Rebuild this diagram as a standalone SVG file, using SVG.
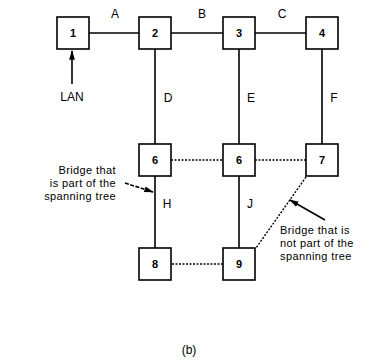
<svg xmlns="http://www.w3.org/2000/svg" width="381" height="360" viewBox="0 0 381 360">
<defs>
<style>
.box{fill:#fff;stroke:#000;stroke-width:1.6}
.ln{stroke:#000;stroke-width:1.6;fill:none}
.dot{stroke:#000;stroke-width:1.4;stroke-dasharray:2 1.5;fill:none}
.num{font-family:"Liberation Sans",Arial,sans-serif;font-size:11px;font-weight:bold;text-anchor:middle}
.lbl{font-family:"Liberation Sans",Arial,sans-serif;font-size:12px;text-anchor:middle}
.note{font-family:"Liberation Sans",Arial,sans-serif;font-size:11px;letter-spacing:0.4px}
</style>
<marker id="ah" viewBox="0 0 10 10" refX="9" refY="5" markerWidth="6" markerHeight="6" orient="auto">
<path d="M0,2 L10,5 L0,8 z" fill="#000"/>
</marker>
</defs>
<rect width="381" height="360" fill="#fff"/>
<g id="connectors">
<line class="ln" x1="89" y1="33" x2="139" y2="33"/>
<line class="ln" x1="171" y1="33" x2="223" y2="33"/>
<line class="ln" x1="255" y1="33" x2="306" y2="33"/>
<line class="ln" x1="155" y1="49" x2="155" y2="144"/>
<line class="ln" x1="239" y1="49" x2="239" y2="144"/>
<line class="ln" x1="322" y1="49" x2="322" y2="144"/>
<line class="ln" x1="155" y1="176" x2="155" y2="248"/>
<line class="ln" x1="239" y1="176" x2="239" y2="248"/>
<line class="dot" x1="171" y1="160" x2="223" y2="160"/>
<line class="dot" x1="255" y1="160" x2="306" y2="160"/>
<line class="dot" x1="172" y1="264" x2="224" y2="264"/>
<line class="dot" x1="306" y1="177" x2="256" y2="248"/>
<line class="ln" x1="72" y1="84" x2="72" y2="51" marker-end="url(#ah)"/>
<line class="ln" x1="125" y1="183" x2="153" y2="192" stroke-dasharray="4 1.5" marker-end="url(#ah)"/>
<line class="ln" x1="325" y1="220" x2="290" y2="200" marker-end="url(#ah)"/>
<text class="lbl" x="115" y="18">A</text>
<text class="lbl" x="202" y="18">B</text>
<text class="lbl" x="282" y="18">C</text>
<text class="lbl" x="168" y="102">D</text>
<text class="lbl" x="251" y="102">E</text>
<text class="lbl" x="334" y="102">F</text>
<text class="lbl" x="167" y="208">H</text>
<text class="lbl" x="250" y="208">J</text>
</g>
<g id="n1"><rect class="box" x="57" y="17" width="32" height="32"/><text class="num" x="73" y="37">1</text></g>
<g id="n2"><rect class="box" x="139" y="17" width="32" height="32"/><text class="num" x="155" y="37">2</text></g>
<g id="n3"><rect class="box" x="223" y="17" width="32" height="32"/><text class="num" x="239" y="37">3</text></g>
<g id="n4"><rect class="box" x="306" y="17" width="32" height="32"/><text class="num" x="322" y="37">4</text></g>
<g id="n5"><rect class="box" x="139" y="144" width="32" height="32"/><text class="num" x="155" y="164">6</text></g>
<g id="n6"><rect class="box" x="223" y="144" width="32" height="32"/><text class="num" x="239" y="164">6</text></g>
<g id="n7"><rect class="box" x="306" y="144" width="32" height="32"/><text class="num" x="322" y="164">7</text></g>
<g id="n8"><rect class="box" x="139" y="248" width="32" height="32"/><text class="num" x="155" y="268">8</text></g>
<g id="n9"><rect class="box" x="223" y="248" width="32" height="32"/><text class="num" x="239" y="268">9</text></g>
<g id="labels">
<text class="note" text-anchor="end" x="116" y="174">Bridge that</text>
<text class="note" text-anchor="end" x="116" y="187">is part of the</text>
<text class="note" text-anchor="end" x="116" y="200">spanning tree</text>
<text class="lbl" x="72" y="101">LAN</text>
<text class="note" x="280" y="234">Bridge that is</text>
<text class="note" x="280" y="247">not part of the</text>
<text class="note" x="280" y="260">spanning tree</text>
<text class="lbl" x="189" y="354">(b)</text>
</g>
</svg>
